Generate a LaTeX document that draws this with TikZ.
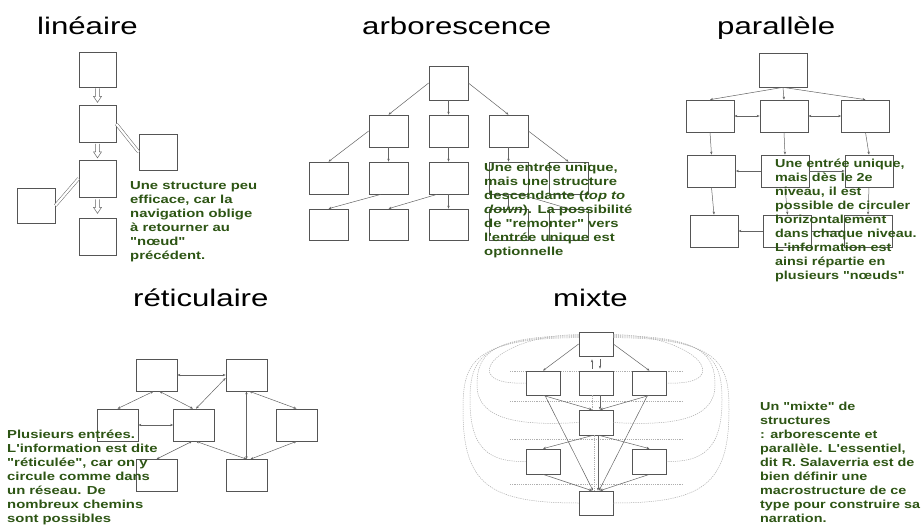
\documentclass[tikz,border=0pt]{standalone}
\usepackage{fontspec}
\newfontfamily\titlefont[FakeStretch=1.3]{Liberation Sans}
\newfontfamily\bodyfont[FakeStretch=1.28]{Liberation Sans}
\newfontfamily\bodyfontn[FakeStretch=1.24]{Liberation Sans}
\usetikzlibrary{arrows.meta,calc}
\definecolor{txtgreen}{RGB}{45,85,20}
\definecolor{boxgray}{RGB}{85,85,85}
\definecolor{linegray}{RGB}{100,100,100}
\definecolor{dotgray}{RGB}{175,175,175}
\tikzset{
  bx/.style 2 args={draw=boxgray, line width=0.7pt, inner sep=0pt, minimum width=#1pt, minimum height=#2pt},
  conn/.style={draw=linegray, line width=0.5pt},
  arr/.style={conn, -{Stealth[length=3pt,width=2.4pt]}},
  darr/.style={conn, {Stealth[length=3pt,width=2.4pt]}-{Stealth[length=3pt,width=2.4pt]}},
  dline/.style={conn, double=white, double distance=2.2pt},
  dots/.style={draw=dotgray, line width=0.5pt, dash pattern=on 1.2pt off 1pt},
  title/.style={font=\titlefont\fontsize{24}{28}\selectfont, anchor=base west, inner sep=0pt},
  note/.style={font=\bodyfont\bfseries\fontsize{11.6}{14}\selectfont, text=txtgreen, anchor=base west, align=left, inner sep=0pt},
  notenarrow/.style={note, font=\bodyfontn\bfseries\fontsize{11.6}{14}\selectfont},
  harrow/.pic={\draw[draw=linegray, line width=0.5pt, fill=white] (-1.8,0) -- (-1.8,8) -- (-4,8) -- (0,14) -- (4,8) -- (1.8,8) -- (1.8,0);}
}
\begin{document}
\begin{tikzpicture}[x=1pt,y=-1pt]
\fill[white] (0,0) rectangle (922,527);
\useasboundingbox (0,0) rectangle (922,527);

% ---------- titles
\node[title] (tlin) at (37,35) {linéaire};
\node[title] (tarb) at (362,35) {arborescence};
\node[title] (tpar) at (717,35) {parallèle};
\node[title] (tret) at (133,306) {réticulaire};
\node[title] (tmix) at (553,306) {mixte};

% ---------- linéaire
\node[bx={37}{35}] (l1) at (97.5,69.5) {};
\node[bx={37}{37}] (l2) at (97.5,124) {};
\node[bx={37}{37}] (l3) at (97.5,178.5) {};
\node[bx={37}{37}] (l4) at (97.5,236.5) {};
\node[bx={38}{36}] (lr) at (158,152) {};
\node[bx={38}{35}] (ll) at (36,205.5) {};
\pic at ($(l1.south)+(0,1)$) {harrow};
\pic at ($(l2.south)+(0,1)$) {harrow};
\pic at ($(l3.south)+(0,2)$) {harrow};
\draw[dline] (l2.east) -- (lr.west);
\draw[dline] (l3.west) -- (ll.east);
% base anchor = last line baseline: first baseline + (n-1)*14
\node[note] (nlin) at (130,259) {Une structure peu\\efficace, car la\\navigation oblige\\à retourner au\\"nœud"\\précédent.};

% ---------- arborescence
\node[bx={39}{34}] (a0) at (448.5,83) {};
\node[bx={39}{32}] (a1) at (388.5,131) {};
\node[bx={39}{32}] (a2) at (448.5,131) {};
\node[bx={39}{32}] (a3) at (508.5,131) {};
\foreach \i/\x in {1/328.5,2/388.5,3/448.5,4/508.5,5/568.5}{
  \node[bx={39}{32}] (b\i) at (\x,178) {};
  \node[bx={39}{31}] (c\i) at (\x,224.5) {};
}
\draw[arr] (a0.west) -- (a1.north);
\draw[arr] (a0.south) -- (a2.north);
\draw[arr] (a0.east) -- (a3.north);
\draw[arr] (a1.west) -- (b1.north);
\draw[arr] (a1.south) -- (b2.north);
\draw[arr] (a2.south) -- (b3.north);
\draw[arr] (a3.south) -- (b4.north);
\draw[arr] (a3.east) -- (b5.north);
\draw[arr] (b2.245) -- (c1.north);
\draw[arr] (b3.235) -- (c2.north);
\draw[arr] (b3.south) -- (c3.north);
\draw[arr] (b4.south) -- (c4.north);
\draw[arr] (b4.-55) -- (c5.north);
\node[note] (narb) at (484,255) {Une entrée unique,\\mais une structure\\descendante (\textit{top to}\\\textit{down}). La possibilité\\de "remonter" vers\\l'entrée unique est\\optionnelle};

% ---------- parallèle
\node[bx={48}{34}] (p0) at (783,70) {};
\node[bx={48}{32}] (p1) at (710,116) {};
\node[bx={48}{32}] (p2) at (784,116) {};
\node[bx={48}{32}] (p3) at (865.5,116) {};
\node[bx={48}{32}] (q1) at (711.5,171) {};
\node[bx={48}{32}] (q2) at (785,171) {};
\node[bx={48}{32}] (q3) at (869,171) {};
\node[bx={48}{32}] (r1) at (714,231) {};
\node[bx={48}{32}] (r2) at (787.5,231) {};
\node[bx={48}{32}] (r3) at (868,231) {};
\draw[arr] (p0.south) -- (p1.north);
\draw[arr] (p0.south) -- (p2.north);
\draw[arr] (p0.south) -- (p3.north);
\draw[darr] (p2.west) -- (p1.east);
\draw[darr] (p2.east) -- (p3.west);
\draw[arr] (p1.south) -- (q1.north);
\draw[arr] (p2.south) -- (q2.north);
\draw[arr] (p3.south) -- (q3.north);
\draw[arr] (q2.west) -- (q1.east);
\draw[arr] (q2.east) -- (q3.west);
\draw[arr] (q1.south) -- (r1.north);
\draw[arr] (q2.south) -- (r2.north);
\draw[arr] (q3.south) -- (r3.north);
\draw[arr] (r2.west) -- (r1.east);
\draw[arr] (r2.east) -- (r3.west);
\node[notenarrow] (npar) at (775,279) {Une entrée unique,\\mais dès le 2e\\niveau, il est\\possible de circuler\\horizontalement\\dans chaque niveau.\\L'information est\\ainsi répartie en\\plusieurs "nœuds"};

% ---------- réticulaire
\node[bx={41}{32}] (t1) at (156.5,375) {};
\node[bx={41}{32}] (t2) at (246.5,375) {};
\node[bx={41}{32}] (m1) at (117.5,425) {};
\node[bx={41}{32}] (m2) at (194,425) {};
\node[bx={41}{32}] (m3) at (296.5,425) {};
\node[bx={41}{32}] (u1) at (156.5,475.5) {};
\node[bx={41}{32}] (u2) at (246.5,475.5) {};
\draw[darr] (t2.west) -- (t1.east);
\draw[darr] ($(t1.south)+(-3,0)$) -- (m1.north);
\draw[darr] ($(t1.south)+(3,0)$) -- ($(m2.north)+(-1,0)$);
\draw[darr] ($(t2.west)+(0,3)$) -- ($(m2.north)+(2,0)$);
\draw[darr] (m1.east) -- (m2.west);
\draw[darr] ($(m2.south)+(-2,0)$) -- (u1.north);
\draw[darr] ($(m2.south)+(2,0)$) -- (u2.north);
\draw[darr] (t2.south) -- (u2.north);
\draw[darr] ($(t2.south)+(3,0)$) -- (m3.north);
\draw[darr] (m3.south) -- ($(u2.north)+(4,0)$);
\node[note] (nret) at (7,522) {Plusieurs entrées.\\L'information est dite\\"réticulée", car on y\\circule comme dans\\un réseau. De\\nombreux chemins\\sont possibles};

% ---------- mixte
\foreach \y in {371,401,439,484}{ \draw[dots] (510,\y) -- (683,\y); }
\node[bx={34}{24}] (t) at (596,344) {};
\node[bx={34}{24}] (l2m) at (543,383) {};
\node[bx={34}{24}] (c2) at (596,383) {};
\node[bx={34}{24}] (r2m) at (649.5,383) {};
\node[bx={34}{25}] (c3) at (596,422.5) {};
\node[bx={34}{25}] (l4m) at (543,461.5) {};
\node[bx={34}{25}] (r4m) at (649.5,461.5) {};
\node[bx={34}{24}] (b) at (596,503) {};
% loops
\draw[dots] ($(t.north west)+(0,3)$) .. controls (495,335) and (455,386) .. (l2m.west);
\draw[dots] ($(t.north west)+(0,4)$) .. controls (490,336) and (477,355) .. (477,385) .. controls (477,420) and (520,426) .. (c3.west);
\draw[dots] ($(t.north west)+(0,5)$) .. controls (480,337) and (470,360) .. (470,400) .. controls (470,450) and (490,462) .. (l4m.west);
\draw[dots] ($(t.north west)+(0,6)$) .. controls (470,338) and (463,365) .. (463,410) .. controls (463,485) and (490,503) .. (b.west);
\draw[dots] ($(t.north east)+(0,3)$) .. controls (697,335) and (737,386) .. (r2m.east);
\draw[dots] ($(t.north east)+(0,4)$) .. controls (702,336) and (715,355) .. (715,385) .. controls (715,420) and (672,426) .. (c3.east);
\draw[dots] ($(t.north east)+(0,5)$) .. controls (712,337) and (722,360) .. (722,400) .. controls (722,450) and (702,462) .. (r4m.east);
\draw[dots] ($(t.north east)+(0,6)$) .. controls (722,338) and (729,365) .. (729,410) .. controls (729,485) and (702,503) .. (b.east);
% links
\draw[arr] (t.west) -- (l2m.north);
\draw[arr] (t.east) -- (r2m.north);
\draw[arr] ($(c2.north)+(-4,-2)$) -- ($(t.south)+(-4,3)$);
\draw[arr] ($(t.south)+(4,3)$) -- ($(c2.north)+(4,-2)$);
\draw[arr] (l2m.south) -- ($(c3.north)+(-4,0)$);
\draw[arr] (r2m.south) -- ($(c3.north)+(4,0)$);
\draw[dots] ($(c2.south)+(-4,0)$) -- ($(c3.north)+(-4,0)$);
\draw[arr] ($(c2.south)+(4,0)$) -- ($(c3.north)+(4,0)$);
\draw[arr] ($(l2m.south)+(2,0)$) -- ($(b.north)+(-3,0)$);
\draw[arr] ($(r2m.south)+(-2,0)$) -- ($(b.north)+(3,0)$);
\draw[arr] ($(c3.south)+(-3,0)$) -- (l4m.north);
\draw[arr] ($(c3.south)+(3,0)$) -- (r4m.north);
\draw[dots] ($(c3.south)+(-2,0)$) -- ($(b.north)+(-2,0)$);
\draw[arr] ($(c3.south)+(2,0)$) -- ($(b.north)+(2,0)$);
\draw[arr] (l4m.south) -- ($(b.north)+(-4,0)$);
\draw[arr] (r4m.south) -- ($(b.north)+(4,0)$);
\node[notenarrow] (nmix) at (760,522) {Un "mixte" de\\structures\\: arborescente et\\parallèle. L'essentiel,\\dit R. Salaverria est de\\bien définir une\\macrostructure de ce\\type pour construire sa\\narration.};
\end{tikzpicture}
\end{document}
